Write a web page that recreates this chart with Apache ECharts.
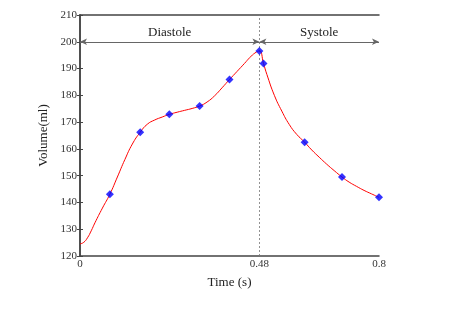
<!DOCTYPE html>
<html><head><meta charset="utf-8">
<script src="https://cdn.jsdelivr.net/npm/echarts@6/dist/echarts.min.js"></script>
<style>html,body{margin:0;padding:0;background:#fff}#c{width:473px;height:309px}</style>
</head><body><div id="c"></div>
<script>
// Measured samples (time s, volume ml)
var markerTimes = [0.080, 0.161, 0.239, 0.320, 0.400, 0.480, 0.491, 0.601, 0.701, 0.800];
var markerVolumes = [143.1, 166.2, 172.9, 176.0, 185.9, 196.6, 191.9, 162.5, 149.5, 141.9];
// Fitted curve
var curveTimes = [0, 0.01, 0.02, 0.03, 0.04, 0.06, 0.08, 0.10, 0.12, 0.14, 0.161, 0.18, 0.20, 0.22, 0.239, 0.26, 0.28, 0.30, 0.32, 0.34, 0.36, 0.38, 0.40, 0.42, 0.44, 0.455, 0.468, 0.48, 0.491, 0.50, 0.52, 0.54, 0.56, 0.58, 0.601, 0.62, 0.64, 0.66, 0.68, 0.701, 0.72, 0.74, 0.76, 0.78, 0.80];
var curveVolumes = [124.5, 125.1, 126.8, 129.4, 132.4, 137.9, 143.1, 149.5, 156.0, 161.8, 166.2, 169.2, 170.8, 171.9, 172.9, 173.7, 174.4, 175.1, 176.0, 177.5, 179.8, 182.8, 185.9, 188.9, 191.9, 194.2, 195.8, 196.6, 191.9, 187.8, 180.0, 174.1, 169.1, 165.4, 162.5, 159.6, 156.9, 154.3, 151.9, 149.5, 147.6, 146.0, 144.5, 143.2, 141.9];
var xTickLabels = [0, 0.48, 0.8];
var phaseBoundary = 0.48;
var phaseLevel = 200;
var phaseNames = ['Diastole', 'Systole'];

var font = '"Liberation Serif","Times New Roman",serif';
var frame = {lineStyle: {color: '#444', width: 1.5}};
function zip(a, b) { return a.map(function (v, i) { return [v, b[i]]; }); }

var chart = echarts.init(document.getElementById('c'));
chart.setOption({
  animation: false,
  grid: {left: 80, right: 94, top: 15, bottom: 53},
  xAxis: [{
    type: 'value', min: 0, max: 0.8, position: 'bottom',
    name: 'Time (s)', nameLocation: 'middle', nameGap: 20,
    nameTextStyle: {fontFamily: font, fontSize: 13, color: '#222'},
    axisLine: frame, splitLine: {show: false},
    axisTick: {show: false},
    axisLabel: {customValues: xTickLabels, fontFamily: font, fontSize: 11, color: '#333', margin: 3,
      formatter: function (v) { return String(v); }}
  }, {
    type: 'value', min: 0, max: 0.8, position: 'top',
    axisLine: frame, axisTick: {show: false}, axisLabel: {show: false}, splitLine: {show: false}
  }],
  yAxis: [{
    type: 'value', min: 120, max: 210, interval: 10, position: 'left',
    name: 'Volume(ml)', nameLocation: 'middle', nameGap: 27,
    nameTextStyle: {fontFamily: font, fontSize: 13, color: '#222'},
    axisLine: frame, splitLine: {show: false},
    axisTick: {inside: true, length: 3, lineStyle: {color: '#444'}},
    axisLabel: {fontFamily: font, fontSize: 11, color: '#333', margin: 3}
  }, {
    type: 'value', min: 120, max: 210, interval: 10, position: 'right',
    axisLine: frame, splitLine: {show: false},
    axisTick: {inside: true, length: 3, lineStyle: {color: '#444'}},
    axisLabel: {show: false}
  }],
  series: [{
    type: 'line', data: zip(curveTimes, curveVolumes), smooth: 0.5,
    showSymbol: false, lineStyle: {color: '#ff0000', width: 1}, z: 3,
    markLine: {
      silent: true, symbol: ['arrow', 'arrow'], symbolSize: [5, 7],
      itemStyle: {color: '#000'},
      lineStyle: {color: '#666', width: 1, type: 'solid'},
      label: {show: true, position: 'middle', distance: 3, fontFamily: font, fontSize: 13, color: '#222'},
      data: [
        [{coord: [0, phaseLevel], name: phaseNames[0]}, {coord: [phaseBoundary, phaseLevel]}],
        [{coord: [phaseBoundary, phaseLevel], name: phaseNames[1]}, {coord: [0.8, phaseLevel]}]
      ]
    }
  }, {
    type: 'line', data: [[phaseBoundary, 120], [phaseBoundary, 210]],
    showSymbol: false, lineStyle: {color: '#777', width: 0.8, type: [2, 2]}, z: 1, silent: true
  }, {
    type: 'scatter', data: zip(markerTimes, markerVolumes), symbol: 'diamond', symbolSize: 8,
    itemStyle: {color: '#0000ff'}, z: 5
  }]
});
</script></body></html>
